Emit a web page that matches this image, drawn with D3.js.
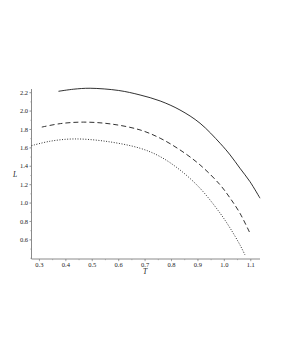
<!DOCTYPE html>
<html>
<head>
<meta charset="utf-8">
<script src="https://cdn.jsdelivr.net/npm/d3@7"></script>
<style>
html,body{margin:0;padding:0;background:#fff;}
svg{display:block;}
text{font-family:"Liberation Serif","DejaVu Serif",serif;}
</style>
</head>
<body>
<svg id="chart" width="281" height="363"></svg>
<script>
// Data
const solidT = [0.372, 0.43, 0.492, 0.6, 0.681, 0.757, 0.832, 0.908, 0.984, 1.022, 1.059, 1.097, 1.135];
const solidL = [2.215, 2.238, 2.248, 2.224, 2.175, 2.110, 2.012, 1.868, 1.650, 1.523, 1.379, 1.233, 1.053];
const dashT = [0.309, 0.38, 0.467, 0.57, 0.681, 0.757, 0.832, 0.908, 0.984, 1.022, 1.059, 1.097];
const dashL = [1.826, 1.864, 1.880, 1.860, 1.795, 1.705, 1.578, 1.415, 1.198, 1.053, 0.890, 0.673];
const dotT = [0.27, 0.34, 0.43, 0.55, 0.681, 0.757, 0.832, 0.908, 0.984, 1.022, 1.059, 1.078];
const dotL = [1.624, 1.672, 1.697, 1.672, 1.596, 1.505, 1.360, 1.161, 0.890, 0.727, 0.546, 0.437];
const xTicks = [0.3, 0.4, 0.5, 0.6, 0.7, 0.8, 0.9, 1.0, 1.1];
const yTicks = [0.6, 0.8, 1.0, 1.2, 1.4, 1.6, 1.8, 2.0, 2.2];
const xLabel = "T";
const yLabel = "L";

const svg = d3.select("#chart");
const x = d3.scaleLinear().domain([0.27, 1.135]).range([31.5, 260]);
const y = d3.scaleLinear().domain([0.392, 2.24]).range([259, 89]);
const axisColor = "#8a8a8a";

const xMinor = d3.range(0.3, 1.13, 0.05);
const yMinor = d3.range(0.4, 2.24, 0.1);

const gx = svg.append("g").attr("transform", `translate(0,${y.range()[0]})`);
gx.append("line").attr("x1", x.range()[0]).attr("x2", x.range()[1]).attr("stroke", axisColor).attr("stroke-width", 1);
gx.selectAll(".mn").data(xMinor).join("line").attr("class", "mn")
  .attr("x1", d => x(d)).attr("x2", d => x(d)).attr("y1", 0).attr("y2", 1.2)
  .attr("stroke", axisColor).attr("stroke-width", 0.6);
gx.selectAll(".mj").data(xTicks).join("line").attr("class", "mj")
  .attr("x1", d => x(d)).attr("x2", d => x(d)).attr("y1", 0).attr("y2", 2.2)
  .attr("stroke", axisColor).attr("stroke-width", 0.7);
gx.selectAll("text").data(xTicks).join("text")
  .attr("x", d => x(d)).attr("y", 7.6).attr("text-anchor", "middle")
  .attr("font-size", 6.5).attr("fill", "#222").text(d => d3.format(".1f")(d));

const gy = svg.append("g").attr("transform", `translate(${x.range()[0]},0)`);
gy.append("line").attr("y1", y.range()[0]).attr("y2", y.range()[1]).attr("stroke", axisColor).attr("stroke-width", 1);
gy.selectAll(".mn").data(yMinor).join("line").attr("class", "mn")
  .attr("y1", d => y(d)).attr("y2", d => y(d)).attr("x1", 0).attr("x2", -1.2)
  .attr("stroke", axisColor).attr("stroke-width", 0.6);
gy.selectAll(".mj").data(yTicks).join("line").attr("class", "mj")
  .attr("y1", d => y(d)).attr("y2", d => y(d)).attr("x1", 0).attr("x2", -2.2)
  .attr("stroke", axisColor).attr("stroke-width", 0.7);
gy.selectAll("text").data(yTicks).join("text")
  .attr("x", -3.5).attr("y", d => y(d) + 2.2).attr("text-anchor", "end")
  .attr("font-size", 6.5).attr("fill", "#222").text(d => d3.format(".1f")(d));

svg.append("text").attr("x", 145).attr("y", 274).attr("text-anchor", "middle")
  .attr("font-size", 7.5).attr("font-style", "italic").attr("fill", "#222").text(xLabel);
svg.append("text").attr("x", 15).attr("y", 176.5).attr("text-anchor", "middle")
  .attr("font-size", 7.5).attr("font-style", "italic").attr("fill", "#222").text(yLabel);

const line = d3.line().x(d => x(d[0])).y(d => y(d[1])).curve(d3.curveCatmullRom.alpha(0.5));
const series = [
  {T: solidT, L: solidL, dash: null},
  {T: dashT, L: dashL, dash: "5,3"},
  {T: dotT, L: dotL, dash: "1,1.6"}
];
series.forEach(s => {
  svg.append("path").datum(s.T.map((t, i) => [t, s.L[i]]))
    .attr("d", line).attr("fill", "none").attr("stroke", "#1a1a1a")
    .attr("stroke-width", 0.9).attr("stroke-dasharray", s.dash);
});
</script>
</body>
</html>
